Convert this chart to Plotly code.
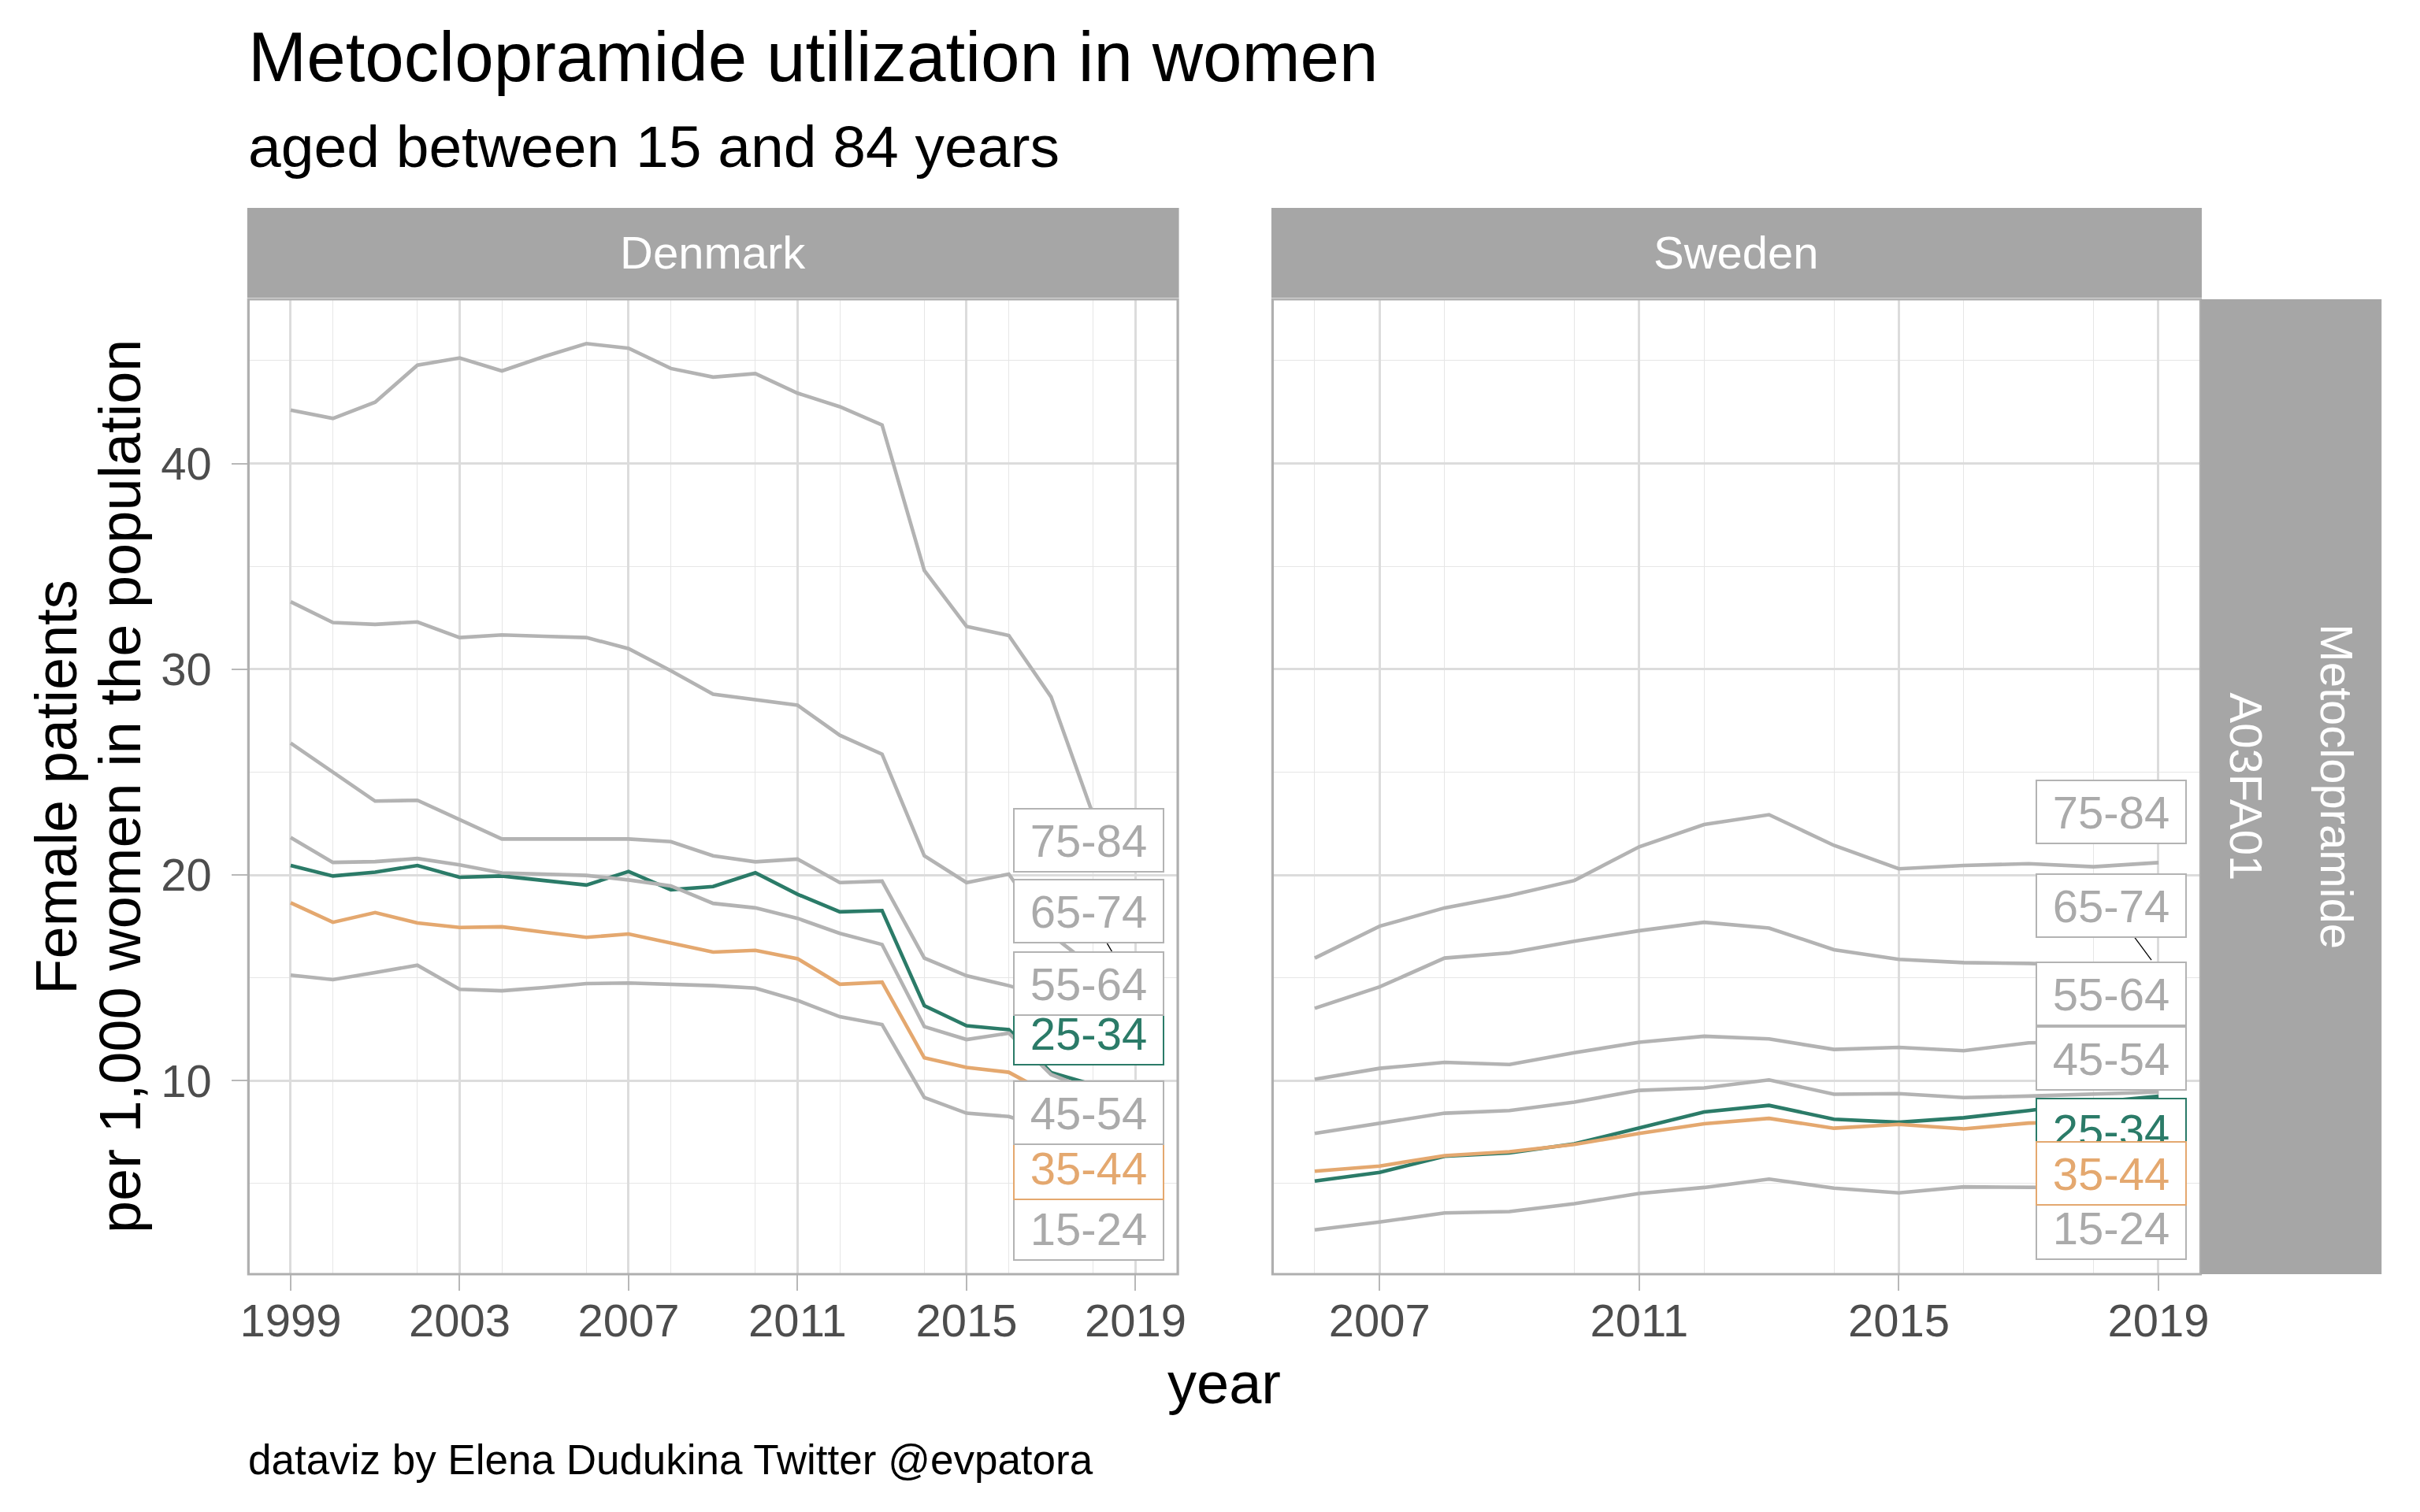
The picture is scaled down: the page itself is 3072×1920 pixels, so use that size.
import plotly.graph_objects as go

PAGE_W, PAGE_H = 3072, 1920
BODY = 8                       # default body margin of the html page
W, H = PAGE_W - 2 * BODY, PAGE_H - 2 * BODY
FONT = "Liberation Sans, Arial, Helvetica, sans-serif"

# ---------------- data ----------------
age_groups = ["15-24", "25-34", "35-44", "45-54", "55-64", "65-74", "75-84"]

years_dk = list(range(1999, 2020))
dk_15_24 = [15.13, 14.91, 15.26, 15.61, 14.44, 14.37, 14.53, 14.72, 14.75, 14.69, 14.62,
            14.50, 13.90, 13.11, 12.73, 9.18, 8.42, 8.26, 7.60, 7.00, 6.80]
dk_25_34 = [20.46, 19.95, 20.14, 20.46, 19.89, 19.95, 19.73, 19.51, 20.17, 19.28, 19.44,
            20.11, 19.06, 18.21, 18.27, 13.65, 12.67, 12.48, 10.40, 9.80, 9.90]
dk_35_44 = [18.65, 17.70, 18.17, 17.67, 17.45, 17.48, 17.22, 16.97, 17.13, 16.69, 16.25,
            16.34, 15.93, 14.69, 14.79, 11.11, 10.64, 10.41, 9.30, 8.60, 8.30]
dk_45_54 = [21.82, 20.61, 20.65, 20.80, 20.49, 20.10, 20.04, 19.98, 19.76, 19.47, 18.62,
            18.40, 17.89, 17.16, 16.62, 12.63, 12.00, 12.31, 10.30, 9.50, 9.20]
dk_55_64 = [26.41, 24.99, 23.59, 23.63, 22.70, 21.75, 21.75, 21.75, 21.75, 21.62, 20.93,
            20.64, 20.77, 19.63, 19.70, 15.96, 15.10, 14.62, 14.00, 13.40, 13.00]
dk_65_74 = [33.28, 32.27, 32.18, 32.30, 31.54, 31.67, 31.60, 31.54, 31.00, 29.93, 28.79,
            28.50, 28.25, 26.79, 25.87, 20.93, 19.63, 20.04, 17.10, 15.50, 14.30]
dk_75_84 = [42.60, 42.19, 42.98, 44.78, 45.13, 44.50, 45.20, 45.83, 45.60, 44.62, 44.20,
            44.37, 43.42, 42.76, 41.87, 34.80, 32.08, 31.64, 28.66, 22.90, 21.00]

years_se = list(range(2006, 2020))
se_15_24 = [2.75, 3.13, 3.57, 3.64, 4.02, 4.52, 4.81, 5.22, 4.78, 4.55, 4.84, 4.80, 4.80, 4.78]
se_25_34 = [5.12, 5.54, 6.33, 6.49, 6.93, 7.72, 8.48, 8.80, 8.13, 7.98, 8.20, 8.55, 8.95, 9.25]
se_35_44 = [5.60, 5.85, 6.36, 6.55, 6.90, 7.44, 7.91, 8.17, 7.69, 7.88, 7.66, 7.94, 8.00, 8.10]
se_45_54 = [7.44, 7.91, 8.42, 8.55, 8.96, 9.53, 9.65, 10.04, 9.34, 9.37, 9.18, 9.25, 9.35, 9.45]
se_55_64 = [10.07, 10.60, 10.89, 10.79, 11.36, 11.87, 12.16, 12.03, 11.52, 11.62, 11.46, 11.84, 11.90, 12.00]
se_65_74 = [13.52, 14.56, 15.96, 16.21, 16.78, 17.29, 17.70, 17.42, 16.37, 15.90, 15.74, 15.70, 15.60, 15.40]
se_75_84 = [15.96, 17.51, 18.40, 19.00, 19.73, 21.37, 22.45, 22.93, 21.44, 20.30, 20.46, 20.55, 20.40, 20.60]

countries = ["Denmark", "Sweden"]
country_years = {"Denmark": years_dk, "Sweden": years_se}
country_series = {
    "Denmark": [dk_15_24, dk_25_34, dk_35_44, dk_45_54, dk_55_64, dk_65_74, dk_75_84],
    "Sweden": [se_15_24, se_25_34, se_35_44, se_45_54, se_55_64, se_65_74, se_75_84],
}

# repelled label centres (y, data units) as placed in the original
label_y = {
    "Denmark": {"15-24": 2.81, "25-34": 12.31, "35-44": 5.78, "45-54": 8.45,
                "55-64": 14.73, "65-74": 18.23, "75-84": 21.68},
    "Sweden": {"15-24": 2.85, "25-34": 7.60, "35-44": 5.48, "45-54": 11.09,
               "55-64": 14.22, "65-74": 18.50, "75-84": 23.06},
}

title = "Metoclopramide utilization in women"
subtitle = "aged between 15 and 84 years"
caption = "dataviz by Elena Dudukina Twitter @evpatora"
x_title = "year"
y_title_lines = ["Female patients", "per 1,000 women in the population"]
row_strip_lines = ["Metoclopramide", "A03FA01"]

# ---------------- styles ----------------
HIGHLIGHT = {"25-34": "#2B7B68", "35-44": "#E4A86F"}
GREY_LINE = "#B3B3B3"
GREY_TEXT = "#AAAAAA"
STRIP = "#A6A6A6"
BORDER = "#AFAFAF"
GRID_MAJ = "#DCDCDC"
GRID_MIN = "#E6E6E6"
TICK_TXT = "#4D4D4D"

# layout in page pixels: left, top, right, bottom
PANELS = {"Denmark": (306.5, 380, 1494.8, 1618), "Sweden": (1616, 380, 2802.6, 1618)}
STRIP_TOP = 264
RIGHT_STRIP = (2803, 3034)
LABEL_W, LABEL_H = 190, 80
LABEL_DX = 60   # px left of the end point
PAD = 15        # segment point padding, px
MIN_SEG = 22

def px_x(p):
    return (p - BODY) / W

def px_y(p):
    return 1 - (p - BODY) / H

def expand(lo, hi, f=0.05):
    d = (hi - lo) * f
    return [lo - d, hi + d]

all_vals = [v for c in countries for s in country_series[c] for v in s]
y_range = expand(min(all_vals), max(all_vals))
x_ranges = {c: expand(min(country_years[c]), max(country_years[c])) for c in countries}

fig = go.Figure()
axis_names = {"Denmark": ("x", "y"), "Sweden": ("x2", "y2")}

for c in countries:
    xa, ya = axis_names[c]
    for g, vals in zip(age_groups, country_series[c]):
        fig.add_trace(go.Scatter(
            x=country_years[c], y=vals, mode="lines", xaxis=xa, yaxis=ya,
            line=dict(color=HIGHLIGHT.get(g, GREY_LINE), width=4.6),
            showlegend=False, hoverinfo="skip"))

def xdom(c):
    l, t, r, b = PANELS[c]
    return [px_x(l), px_x(r)]

def ydom(c):
    l, t, r, b = PANELS[c]
    return [px_y(b), px_y(t)]

common_x = dict(
    dtick=4, ticks="outside", ticklen=20, tickwidth=2.4, tickcolor="#B8B8B8",
    showgrid=True, gridcolor=GRID_MAJ, gridwidth=2.6, zeroline=False, showline=False,
    tickfont=dict(family=FONT, size=58, color=TICK_TXT), ticklabelstandoff=-12,
    minor=dict(dtick=2, showgrid=True, gridcolor=GRID_MIN, gridwidth=1.3, ticks=""),
)
fig.update_layout(
    xaxis=dict(domain=xdom("Denmark"), range=x_ranges["Denmark"], tick0=1999, anchor="y", **common_x),
    xaxis2=dict(domain=xdom("Sweden"), range=x_ranges["Sweden"], tick0=2007, anchor="y2", **common_x),
    yaxis=dict(domain=ydom("Denmark"), range=y_range, tick0=0, dtick=10, anchor="x",
               ticks="outside", ticklen=20, tickwidth=2.4, tickcolor="#B8B8B8",
               showgrid=True, gridcolor=GRID_MAJ, gridwidth=2.6, zeroline=False, showline=False,
               tickfont=dict(family=FONT, size=58, color=TICK_TXT), ticklabelstandoff=14,
               minor=dict(dtick=5, showgrid=True, gridcolor=GRID_MIN, gridwidth=1.3, ticks="")),
    yaxis2=dict(domain=ydom("Sweden"), range=y_range, tick0=0, dtick=10, anchor="x2",
                matches="y", showticklabels=False, ticks="",
                showgrid=True, gridcolor=GRID_MAJ, gridwidth=2.6, zeroline=False, showline=False,
                minor=dict(dtick=5, showgrid=True, gridcolor=GRID_MIN, gridwidth=1.3, ticks="")),
)

shapes = []
annotations = []

def to_px(c, x, y):
    l, t, r, b = PANELS[c]
    x0, x1 = x_ranges[c]
    y0, y1 = y_range
    return (l + (x - x0) / (x1 - x0) * (r - l), t + (y1 - y) / (y1 - y0) * (b - t))

def from_px(c, px, py):
    l, t, r, b = PANELS[c]
    x0, x1 = x_ranges[c]
    y0, y1 = y_range
    return (x0 + (px - l) / (r - l) * (x1 - x0), y1 - (py - t) / (b - t) * (y1 - y0))

for c in countries:
    l, t, r, b = PANELS[c]
    # panel border
    shapes.append(dict(type="rect", xref="paper", yref="paper", x0=px_x(l), x1=px_x(r),
                       y0=px_y(b), y1=px_y(t), line=dict(color=BORDER, width=3.2),
                       fillcolor="rgba(0,0,0,0)", layer="above"))
    # top strip
    shapes.append(dict(type="rect", xref="paper", yref="paper", x0=px_x(l - 1.5), x1=px_x(r + 1.5),
                       y0=px_y(t - 2), y1=px_y(STRIP_TOP), line=dict(width=0),
                       fillcolor=STRIP, layer="above"))
    annotations.append(dict(xref="paper", yref="paper", x=px_x((l + r) / 2), y=px_y((STRIP_TOP + t - 2) / 2),
                            text=c, showarrow=False, xanchor="center", yanchor="middle",
                            font=dict(family=FONT, size=58, color="white")))

    xa, ya = axis_names[c]
    last_x = country_years[c][-1]
    for g, vals in zip(age_groups, country_series[c]):
        col = HIGHLIGHT.get(g, GREY_LINE)
        txt = HIGHLIGHT.get(g, GREY_TEXT)
        ppx, ppy = to_px(c, last_x, vals[-1])
        lx_px = ppx - LABEL_DX
        _, ly_px = to_px(c, last_x, label_y[c][g])
        lx, _ = from_px(c, lx_px, ly_px)
        # leader segment (ggrepel style)
        dx, dy = ppx - lx_px, ppy - ly_px
        ts = []
        if dx != 0:
            ts.append((LABEL_W / 2) / abs(dx))
        if dy != 0:
            ts.append((LABEL_H / 2) / abs(dy))
        tex = min(ts) if ts else 1
        if tex < 1:
            sx, sy = lx_px + dx * tex, ly_px + dy * tex
            rem = ((ppx - sx) ** 2 + (ppy - sy) ** 2) ** 0.5
            if rem - PAD > MIN_SEG:
                ex, ey = ppx - (ppx - sx) / rem * PAD, ppy - (ppy - sy) / rem * PAD
                a0 = from_px(c, sx, sy)
                a1 = from_px(c, ex, ey)
                shapes.append(dict(type="line", xref=xa, yref=ya, x0=a0[0], y0=a0[1],
                                   x1=a1[0], y1=a1[1], line=dict(color="black", width=1.3),
                                   layer="above"))
        annotations.append(dict(xref=xa, yref=ya, x=lx, y=label_y[c][g], text=g,
                                showarrow=False, xanchor="center", yanchor="middle",
                                width=LABEL_W - 2, height=LABEL_H - 2, borderpad=0,
                                bgcolor="white", bordercolor=col, borderwidth=2,
                                font=dict(family=FONT, size=58, color=txt)))

# right strip
pl, pt, pr, pb = PANELS["Sweden"]
shapes.append(dict(type="rect", xref="paper", yref="paper", x0=px_x(RIGHT_STRIP[0]), x1=px_x(RIGHT_STRIP[1]),
                   y0=px_y(pb), y1=px_y(pt), line=dict(width=0), fillcolor=STRIP, layer="above"))
for txt, xc in zip(row_strip_lines, [2977, 2862]):
    annotations.append(dict(xref="paper", yref="paper", x=px_x(xc), y=px_y(999), text=txt,
                            textangle=90, showarrow=False, xanchor="center", yanchor="middle",
                            font=dict(family=FONT, size=58, color="white")))

# titles and captions
annotations += [
    dict(xref="paper", yref="paper", x=px_x(304), y=px_y(72), text=title, showarrow=False,
         xanchor="left", yanchor="middle", font=dict(family=FONT, size=89, color="black")),
    dict(xref="paper", yref="paper", x=px_x(304), y=px_y(186), text=subtitle, showarrow=False,
         xanchor="left", yanchor="middle", font=dict(family=FONT, size=75, color="black")),
    dict(xref="paper", yref="paper", x=px_x(304), y=px_y(1853), text=caption, showarrow=False,
         xanchor="left", yanchor="middle", font=dict(family=FONT, size=53, color="black")),
    dict(xref="paper", yref="paper", x=px_x(1554.5), y=px_y(1756), text=x_title, showarrow=False,
         xanchor="center", yanchor="middle", font=dict(family=FONT, size=74, color="black")),
]
for txt, xc in zip(y_title_lines, [60, 142]):
    annotations.append(dict(xref="paper", yref="paper", x=px_x(xc), y=px_y(999), text=txt,
                            textangle=-90, showarrow=False, xanchor="center", yanchor="middle",
                            font=dict(family=FONT, size=74, color="black")))

fig.update_layout(
    width=W, height=H, margin=dict(l=0, r=0, t=0, b=0),
    paper_bgcolor="white", plot_bgcolor="white",
    font=dict(family=FONT), showlegend=False,
    shapes=shapes, annotations=annotations,
)

fig.write_html("out.html", config={"displayModeBar": False})
